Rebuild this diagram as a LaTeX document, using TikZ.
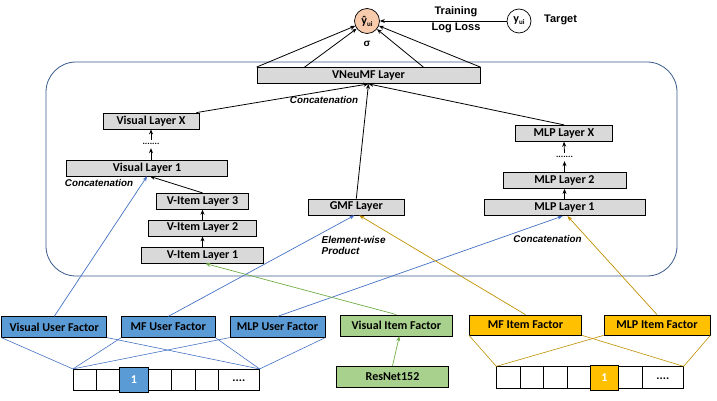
\documentclass[tikz,border=0pt]{standalone}
\usepackage{fontspec}
\setmainfont{Carlito}
\newfontfamily\arl{Liberation Sans}
\usetikzlibrary{arrows.meta}
\definecolor{layergray}{HTML}{D9D9D9}
\definecolor{ublue}{HTML}{5B9BD5}
\definecolor{uline}{HTML}{4472C4}
\definecolor{vgreen}{HTML}{A9D18E}
\definecolor{gline}{HTML}{70AD47}
\definecolor{iyellow}{HTML}{FFC000}
\definecolor{iline}{HTML}{BF9000}
\definecolor{peach}{HTML}{F8CBAD}
\definecolor{framecol}{HTML}{3A5A8C}
\newcommand\bxfont{\fontsize{12}{12}\selectfont\bfseries}
\newcommand\annfont{\arl\fontsize{9.8}{11}\selectfont\bfseries\itshape}
\tikzset{
  arr/.style={-{Stealth[length=5pt,width=4pt]}, line width=0.8pt, black},
  layer/.style={draw=black, fill=layergray, line width=0.8pt, minimum height=16, inner sep=0pt, font=\bxfont},
  ufac/.style={draw=black, fill=ublue, line width=0.7pt, minimum height=20.5, inner sep=0pt, font=\bxfont},
  vfac/.style={draw=black, fill=vgreen, line width=0.7pt, minimum height=21, inner sep=0pt, font=\bxfont},
  ifac/.style={draw=black, fill=iyellow, line width=0.7pt, minimum height=20, inner sep=0pt, font=\bxfont},
  cell/.style={draw=black, fill=white, line width=0.7pt, minimum height=21.4, inner sep=0pt, font=\bxfont},
  uarr/.style={-{Stealth[length=5pt,width=4pt]}, line width=0.7pt, uline},
  garr/.style={-{Stealth[length=5pt,width=4pt]}, line width=0.7pt, gline},
  iarr/.style={-{Stealth[length=5pt,width=4pt]}, line width=0.7pt, iline},
  ufan/.style={line width=0.6pt, uline},
  ifan/.style={line width=0.6pt, iline},
  ann/.style={inner sep=0pt, font=\annfont},
  dotsnode/.style={inner sep=0pt, minimum height=8, font=\fontsize{9}{9}\selectfont\bfseries},
}
\begin{document}
\begin{tikzpicture}[x=1pt,y=-1pt]
\useasboundingbox (0,0) rectangle (717,401);
% frame
\node[draw=framecol, line width=0.8pt, rounded corners=30pt, minimum width=631, minimum height=214, inner sep=0pt] (frame) at (361.5,169) {};
% top
\node[draw=black, fill=peach, circle, line width=0.7pt, minimum size=25, inner sep=0pt, font=\fontsize{12}{12}\selectfont\bfseries] (yhat) at (367,21) {ŷ\raisebox{-2pt}{\fontsize{7}{7}\selectfont ui}};
\node[draw=black, fill=white, circle, line width=0.7pt, minimum size=24, inner sep=0pt, font=\fontsize{12}{12}\selectfont\bfseries] (ytrue) at (519,21) {y\raisebox{-2pt}{\fontsize{7}{7}\selectfont ui}};
\node[inner sep=0pt, anchor=west, font=\arl\fontsize{11}{11}\selectfont\bfseries] (target) at (544,20) {Target};
\node[inner sep=0pt, font=\arl\fontsize{11}{11}\selectfont\bfseries] (train) at (456,12) {Training};
\node[inner sep=0pt, font=\arl\fontsize{11}{11}\selectfont\bfseries] (logloss) at (456,28) {Log Loss};
\draw[arr] (ytrue) -- (yhat);
\node[inner sep=0pt, font=\arl\fontsize{10}{10}\selectfont\bfseries] (sigma) at (367,44) {σ};
% VNeuMF
\node[layer, minimum width=223] (vn) at (368.5,75.5) {VNeuMF Layer};
\draw[arr] (vn.north west) -- (yhat);
\draw[arr] ([xshift=48]vn.north west) -- (yhat);
\draw[arr] ([xshift=-57]vn.north east) -- (yhat);
\draw[arr] (vn.north east) -- (yhat);
\node[ann] (concat0) at (324,100) {Concatenation};
% visual tower
\node[layer, minimum width=96] (vlx) at (151,121) {Visual Layer X};
\node[dotsnode] (vdots) at (151,144) {.......};
\node[layer, minimum width=161] (vl1) at (147,168) {Visual Layer 1};
\node[ann] (concat1) at (99,183) {Concatenation};
\node[layer, minimum width=92] (vi3) at (202.5,201.3) {V-Item Layer 3};
\node[layer, minimum width=108] (vi2) at (202.5,228) {V-Item Layer 2};
\node[layer, minimum width=122] (vi1) at (202.5,255.2) {V-Item Layer 1};
\draw[arr] (vl1.north -| vdots) -- (vdots.south);
\draw[arr] (vdots.north) -- (vdots.north |- vlx.south);
\draw[arr] (vi1.north) -- (vi2.south);
\draw[arr] (vi2.north) -- (vi3.south);
\draw[arr] (vi3.north) -- ([xshift=3]vl1.south);
% GMF
\node[layer, minimum width=96] (gmf) at (356.3,207) {GMF Layer};
\node[ann, align=left, anchor=north west, font=\arl\fontsize{10}{11.5}\selectfont\bfseries\itshape] (ew) at (321.5,236) {Element-wise\\Product};
% MLP tower
\node[layer, minimum width=97] (mlx) at (564,133.3) {MLP Layer X};
\node[dotsnode] (mdots) at (564.5,157) {.......};
\node[layer, minimum width=123] (ml2) at (564.5,180.5) {MLP Layer 2};
\node[layer, minimum width=161] (ml1) at (564.5,207.7) {MLP Layer 1};
\node[ann] (concat2) at (547.5,239) {Concatenation};
\draw[arr] (ml1.north) -- (ml2.south);
\draw[arr] (ml2.north) -- (mdots.south);
\draw[arr] (mdots.north) -- (mlx.south);
% into VNeuMF
\draw[arr] ([xshift=-3]vlx.north east) -- (vn.south);
\draw[arr] (gmf.north) -- (vn.south);
\draw[arr] (mlx.north) -- (vn.south);
% factors
\node[ufac, minimum width=105] (vuf) at (54.2,327) {Visual User Factor};
\node[ufac, minimum width=93.3] (mfuf) at (168.3,327) {MF User Factor};
\node[ufac, minimum width=95] (mlpuf) at (277.5,327) {MLP User Factor};
\node[vfac, minimum width=112.7] (vif) at (396.3,325.4) {Visual Item Factor};
\node[vfac, minimum width=111.6] (resnet) at (392.5,376.7) {ResNet152};
\node[ifac, minimum width=112.4] (mfif) at (525.5,325) {MF Item Factor};
\node[ifac, minimum width=106] (mlpif) at (657,325) {MLP Item Factor};
\draw[uarr] (vuf.north) -- (vl1.south);
\draw[uarr] (mfuf.north) -- ([xshift=-2]gmf.south);
\draw[uarr] (mlpuf.north) -- ([xshift=-2]ml1.south);
\draw[garr] (vif.north) -- ([xshift=3]vi1.south);
\draw[garr] (resnet.north) -- ([xshift=3]vif.south);
\draw[iarr] (mfif.north) -- ([xshift=3]gmf.south);
\draw[iarr] (mlpif.north) -- ([xshift=3]ml1.south);
% user one-hot vector
\node[cell, minimum width=186] (uvec) at (166.3,380) {};
\node[cell, minimum width=23.4] (uc1) at (85,380) {};
\node[cell, minimum width=22.6] (uc2) at (108,380) {};
\node[cell, minimum width=23.4] (uc4) at (160,380) {};
\node[cell, minimum width=23.3] (uc5) at (183.3,380) {};
\node[cell, minimum width=23.3] (uc6) at (206.7,380) {};
\node[cell, minimum width=41] (uc7) at (238.8,380) {\raisebox{-4pt}{....}};
\node[cell, fill=ublue, minimum width=29, minimum height=25, text=white] (uc3) at (133.8,380) {1};
% item one-hot vector
\node[cell, minimum width=186.6, minimum height=21.6] (ivec) at (590,377.5) {};
\node[cell, minimum width=23.3, minimum height=21.6] (ic1) at (508.3,377.5) {};
\node[cell, minimum width=23.3, minimum height=21.6] (ic2) at (531.7,377.5) {};
\node[cell, minimum width=24, minimum height=21.6] (ic3) at (555.3,377.5) {};
\node[cell, minimum width=23.4, minimum height=21.6] (ic4) at (579,377.5) {};
\node[cell, minimum width=24, minimum height=21.6] (ic6) at (630.3,377.5) {};
\node[cell, minimum width=41, minimum height=21.6] (ic7) at (662.8,377.5) {\raisebox{-4pt}{....}};
\node[cell, fill=iyellow, minimum width=27.6, minimum height=25, text=white] (ic5) at (604.5,377.5) {1};
% fans
\foreach \f in {vuf,mfuf,mlpuf}{
  \draw[ufan] (\f.south west) -- (uvec.north west);
  \draw[ufan] (\f.south east) -- (uvec.north east);
}
\foreach \f in {mfif,mlpif}{
  \draw[ifan] (\f.south west) -- (ivec.north west);
  \draw[ifan] (\f.south east) -- (ivec.north east);
}
\end{tikzpicture}
\end{document}
